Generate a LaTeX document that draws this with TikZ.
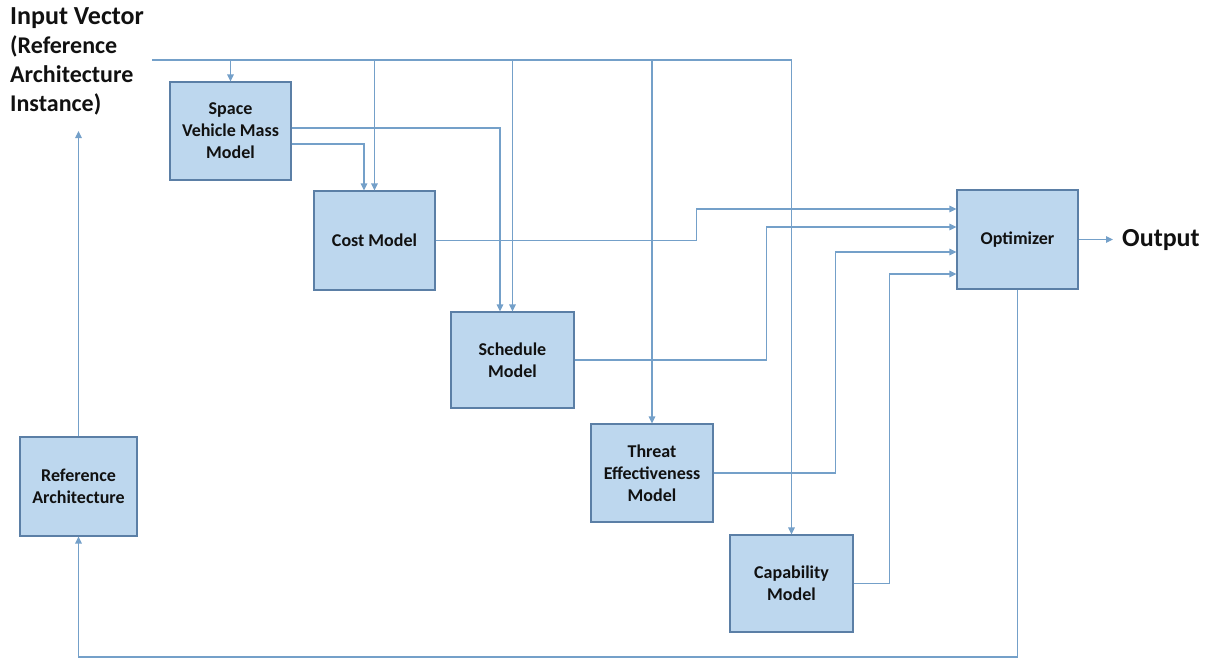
\documentclass[tikz,border=0pt]{standalone}
\usepackage{fontspec}
\setmainfont{Carlito}
\usetikzlibrary{arrows.meta}
\definecolor{boxfill}{HTML}{BDD7EE}
\definecolor{boxdraw}{HTML}{5B7FA6}
\definecolor{linec}{HTML}{74A0C9}
\definecolor{txt}{HTML}{111111}
\begin{document}
\begin{tikzpicture}[x=1pt,y=-1pt,
  box/.style={draw=boxdraw, fill=boxfill, line width=1.1pt, align=center,
    font=\bfseries\fontsize{18}{22}\selectfont, text=txt, inner sep=2pt},
  conn/.style={draw=linec, line width=1.2pt, -{Triangle[length=7pt,width=6.5pt]}},
  wire/.style={draw=linec, line width=1.2pt},
  bigtext/.style={font=\bfseries\fontsize{24}{29}\selectfont, text=txt}]
\useasboundingbox (0,0) rectangle (1214,659);

% input text
\node[bigtext, anchor=north west, align=left, inner sep=0pt] (input) at (10,7)
  {{\fontsize{26}{29}\selectfont Input Vector}\\(Reference\\Architecture\\Instance)};

% boxes
\node[box, minimum width=121pt, minimum height=98pt] (svm) at (230.5,131) {Space\\Vehicle Mass\\Model};
\node[box, minimum width=121pt, minimum height=99pt] (cost) at (374.5,240.5) {Cost Model};
\node[box, minimum width=123pt, minimum height=96pt] (sched) at (512.5,360) {Schedule\\Model};
\node[box, minimum width=122pt, minimum height=98pt] (threat) at (652,473) {Threat\\Effectiveness\\Model};
\node[box, minimum width=123pt, minimum height=97pt] (cap) at (791.5,583.5) {Capability\\Model};
\node[box, minimum width=121pt, minimum height=99pt] (opt) at (1017.5,239.5) {Optimizer};
\node[box, minimum width=117pt, minimum height=99pt] (ref) at (78.5,486.5) {Reference\\Architecture};

\node[bigtext, font=\bfseries\fontsize{26}{30}\selectfont, anchor=west, inner xsep=9pt, inner ysep=0pt] (out) at (1113,240.5) {Output};

% top distribution line
\coordinate (tl) at (152,60);
\draw[wire] (tl) -- (cap.north |- tl);
\draw[conn] (svm.north |- tl) -- (svm.north);
\draw[conn] (cost.north |- tl) -- (cost.north);
\draw[conn] (sched.north |- tl) -- (sched.north);
\draw[conn] (threat.north |- tl) -- (threat.north);
\draw[conn] (cap.north |- tl) -- (cap.north);

% space vehicle mass outputs
\draw[conn] ([yshift=3pt]svm.east) -| ([xshift=-12.5pt]sched.north);
\draw[conn] ([yshift=-13pt]svm.east) -| ([xshift=-10.5pt]cost.north);

% outputs to optimizer
\draw[conn] (cost.east) -- ++(261,0) |- ([yshift=30.5pt]opt.west);
\draw[conn] (sched.east) -- ++(192,0) |- ([yshift=12.5pt]opt.west);
\draw[conn] (threat.east) -- ++(122,0) |- ([yshift=-12.5pt]opt.west);
\draw[conn] (cap.east) -- ++(36,0) |- ([yshift=-34.5pt]opt.west);

% optimizer output
\draw[conn] (opt.east) -- (opt.east -| out.west);

% feedback
\coordinate (fb) at (opt.south |- 0,657);
\draw[conn] (opt.south) -- (fb) -| (ref.south);
\coordinate (inend) at (ref.north |- 0,131);
\draw[conn] (ref.north) -- (inend);
\end{tikzpicture}
\end{document}
